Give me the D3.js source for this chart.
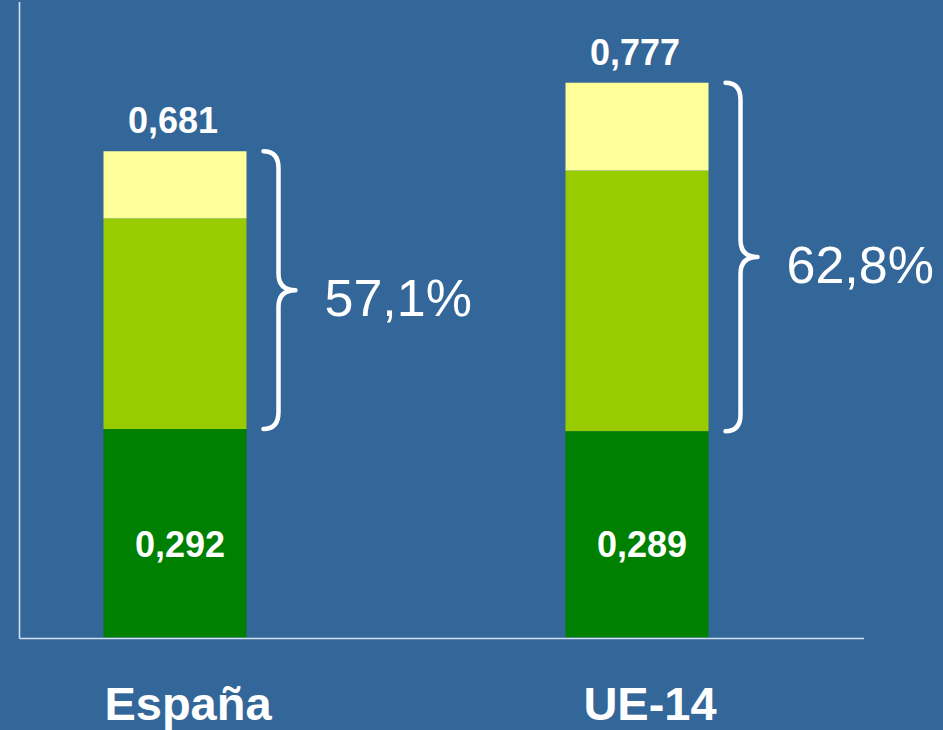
<!DOCTYPE html>
<html>
<head>
<meta charset="utf-8">
<script src="https://cdn.jsdelivr.net/npm/d3@7"></script>
<style>
  html, body { margin: 0; padding: 0; background: #336699; }
  svg { display: block; }
</style>
</head>
<body>
<svg id="chart" width="943" height="730"></svg>
<script>
// Categories and stacked components (bottom to top)
const categories = ["España", "UE-14"];
const baseValues = [0.292, 0.289];     // dark green segment
const middleValues = [0.295, 0.365];   // light green segment
const topValues = [0.094, 0.123];      // yellow segment
const totalLabels = ["0,681", "0,777"];
const baseLabels = ["0,292", "0,289"];

const colors = ["#008000", "#99cc00", "#ffff99"];

const width = 943, height = 730;
const svg = d3.select("#chart");

svg.append("rect").attr("width", width).attr("height", height).attr("fill", "#336699");

const baselineY = 637.5;
const y = d3.scaleLinear().domain([0, 0.89]).range([baselineY, baselineY - 0.89 * 714]);
const x = d3.scaleBand().domain(categories).range([20, 792])
  .paddingInner(0.6905).paddingOuter(0.1807);

const rows = categories.map((c, i) => ({
  cat: c, base: baseValues[i], mid: middleValues[i], top: topValues[i],
  total: baseValues[i] + middleValues[i] + topValues[i], i
}));

const stack = d3.stack().keys(["base", "mid", "top"]);
const series = stack(rows);

// Axis lines
svg.append("line").attr("x1", 19.5).attr("x2", 19.5).attr("y1", 2).attr("y2", baselineY + 1)
  .attr("stroke", "#d4e0f0").attr("stroke-width", 1.6);

// Bars
svg.append("g").selectAll("g").data(series).join("g")
  .attr("fill", (d, i) => colors[i])
  .selectAll("rect").data(d => d).join("rect")
  .attr("x", d => x(d.data.cat))
  .attr("width", x.bandwidth())
  .attr("y", d => y(d[1]))
  .attr("height", d => y(d[0]) - y(d[1]));

svg.append("line").attr("x1", 19.5).attr("x2", 864).attr("y1", baselineY + 1).attr("y2", baselineY + 1)
  .attr("stroke", "#d4e0f0").attr("stroke-width", 1.6);

// Value labels
const bold = "'Liberation Sans', Arial, sans-serif";
svg.append("g").selectAll("text").data(rows).join("text")
  .attr("x", d => x(d.cat) + x.bandwidth() / 2 - 2)
  .attr("y", d => y(d.total) - 18)
  .attr("text-anchor", "middle")
  .attr("font-family", bold).attr("font-weight", "bold").attr("font-size", 36)
  .attr("fill", "#ffffff")
  .text(d => totalLabels[d.i]);

svg.append("g").selectAll("text").data(rows).join("text")
  .attr("x", d => x(d.cat) + x.bandwidth() / 2 + 5)
  .attr("y", 557)
  .attr("text-anchor", "middle")
  .attr("font-family", bold).attr("font-weight", "bold").attr("font-size", 36)
  .attr("fill", "#ffffff")
  .text(d => baseLabels[d.i]);

// Braces spanning the light green + yellow share
const braces = svg.append("g");
rows.forEach(d => {
  const top = y(d.total), bot = y(d.base), mid = (top + bot) / 2;
  const x0 = x(d.cat) + x.bandwidth() + 17;
  const x1 = x0 + 15, x2 = x0 + 32, r = 17;
  const p = d3.path();
  p.moveTo(x0, top);
  p.quadraticCurveTo(x1, top, x1, top + r);
  p.lineTo(x1, mid - r);
  p.quadraticCurveTo(x1, mid, x2, mid);
  p.quadraticCurveTo(x1, mid, x1, mid + r);
  p.lineTo(x1, bot - r);
  p.quadraticCurveTo(x1, bot, x0, bot);
  braces.append("path").attr("d", p.toString())
    .attr("fill", "none").attr("stroke", "#ffffff").attr("stroke-width", 4.5)
    .attr("stroke-linecap", "round").attr("stroke-linejoin", "round");

  const share = (d.total - d.base) / d.total * 100;
  braces.append("text")
    .attr("x", x2 + 29)
    .attr("y", mid + 26)
    .attr("font-family", bold).attr("font-size", 52)
    .attr("fill", "#ffffff")
    .text(share.toFixed(1).replace(".", ",") + "%");
});

// Category labels
svg.append("g").selectAll("text").data(rows).join("text")
  .attr("x", d => x(d.cat) + x.bandwidth() / 2 + 13)
  .attr("y", 720)
  .attr("text-anchor", "middle")
  .attr("font-family", bold).attr("font-weight", "bold").attr("font-size", 47)
  .attr("fill", "#ffffff")
  .text(d => d.cat);
</script>
</body>
</html>
